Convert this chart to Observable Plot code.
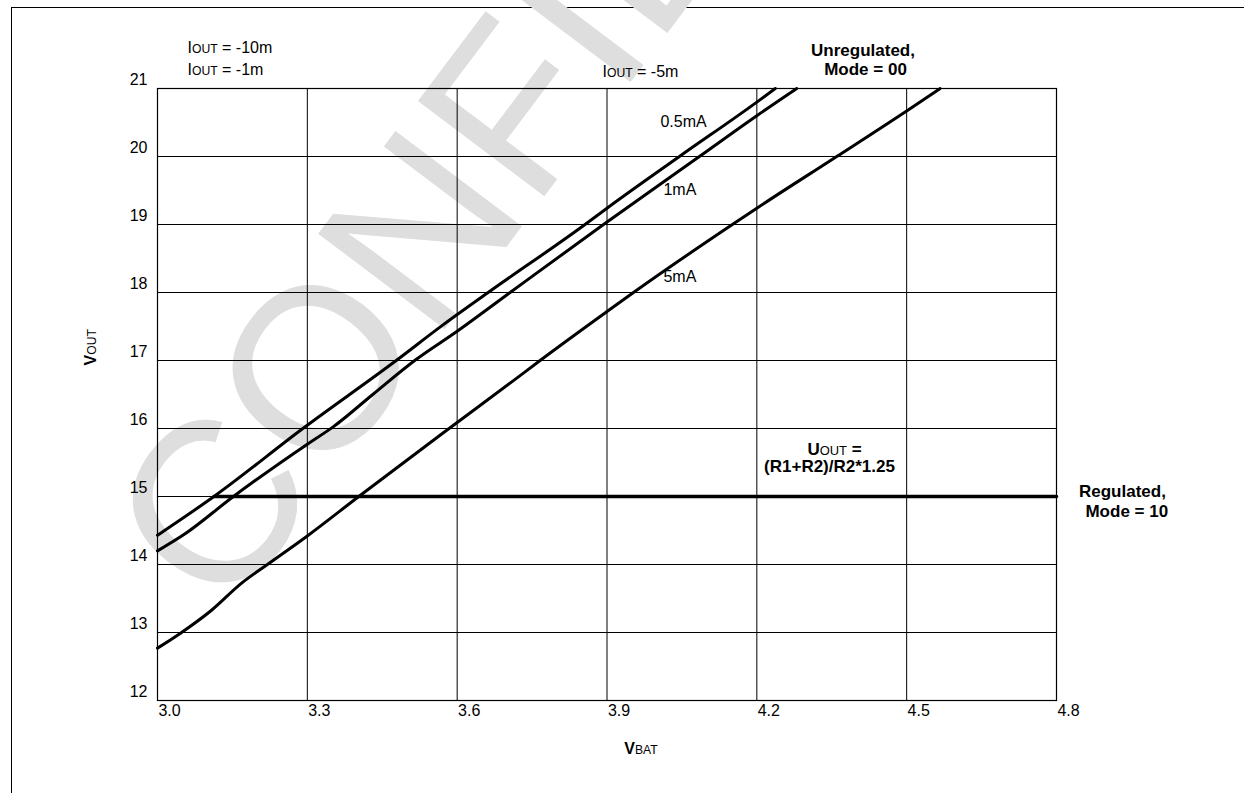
<!DOCTYPE html>
<html>
<head>
<meta charset="utf-8">
<script src="https://cdn.jsdelivr.net/npm/d3@7"></script>
<script src="https://cdn.jsdelivr.net/npm/@observablehq/plot@0.6"></script>
<style>
html, body { margin: 0; padding: 0; background: #fff; overflow: hidden; }
#wrap { position: relative; width: 1244px; height: 793px; }
#wrap svg { position: absolute; left: 0; top: 0; }
#border { position: absolute; left: 11px; top: 7px; right: 0; bottom: 0;
  border-top: 1.5px solid #000; border-left: 1.5px solid #000; pointer-events: none; }
</style>
</head>
<body>
<div id="wrap"><div id="border"></div></div>
<script>
// ---- data ----
const xTicks = [3.0, 3.3, 3.6, 3.9, 4.2, 4.5, 4.8];
const yTicks = [12, 13, 14, 15, 16, 17, 18, 19, 20, 21];

const vbat05 = [3.0, 3.113, 3.291, 3.478, 3.571, 3.662, 3.856, 3.9, 4.045, 4.2, 4.237];
const vout05 = [14.43, 15.0, 16.0, 17.0, 17.52, 18.0, 19.0, 19.24, 20.0, 20.80, 21.0];

const vbat1 = [3.0, 3.053, 3.152, 3.3, 3.351, 3.431, 3.515, 3.6, 3.706, 3.893, 4.085, 4.2, 4.28];
const vout1 = [14.20, 14.44, 15.0, 15.77, 16.02, 16.50, 17.0, 17.43, 18.0, 19.0, 20.0, 20.60, 21.0];

const vbat5 = [3.0, 3.046, 3.107, 3.169, 3.22, 3.3, 3.403, 3.571, 3.712, 3.766, 3.9, 3.953, 4.151, 4.2, 4.36, 4.5, 4.567];
const vout5 = [12.77, 12.99, 13.32, 13.73, 14.0, 14.42, 15.0, 15.93, 16.70, 17.0, 17.72, 18.0, 19.0, 19.24, 20.0, 20.67, 21.0];

const vbatReg = [3.113, 4.8];
const voutReg = [15.0, 15.0];

const curveNames = ["0.5mA", "1mA", "5mA"];

// text notes (label, x, y in data units)
const noteText = ["IOUT = -10m", "IOUT = -1m", "IOUT = -5m", "0.5mA", "1mA", "5mA"];
const noteX    = [3.060, 3.060, 3.891, 4.007, 4.013, 4.013];
const noteY    = [21.60, 21.28, 21.25, 20.515, 19.515, 18.23];

const boldText = ["Unregulated,", "Mode = 00", "UOUT =", "(R1+R2)/R2*1.25", "Regulated,", " Mode = 10"];
const boldX    = [4.4126, 4.4176, 4.3555, 4.3455, 4.932, 4.936];
const boldY    = [21.56, 21.28, 15.69, 15.44, 15.07, 14.78];

// ---- build tables ----
const curves = [];
[[vbat05, vout05], [vbat1, vout1], [vbat5, vout5]].forEach(([xs, ys], k) => {
  xs.forEach((x, i) => curves.push({series: curveNames[k], vbat: x, vout: ys[i]}));
});
const regulated = vbatReg.map((x, i) => ({vbat: x, vout: voutReg[i]}));
const notes = noteText.map((t, i) => ({t, x: noteX[i], y: noteY[i]}));
const bolds = boldText.map((t, i) => ({t, x: boldX[i], y: boldY[i]}));

const FONT = "'Liberation Sans', Arial, Helvetica, sans-serif";

const chart = Plot.plot({
  width: 1244,
  height: 793,
  marginLeft: 157,
  marginRight: 188,
  marginTop: 88,
  marginBottom: 93,
  style: {fontFamily: FONT, fontSize: "16px", background: "transparent", overflow: "visible", color: "#000"},
  x: {domain: [3.0, 4.8], label: null},
  y: {domain: [12, 21], label: null},
  marks: [
    Plot.text(["CONFIDENTIAL"], {
      frameAnchor: "top-left", text: d => d, dx: 68, dy: 531, rotate: -53,
      textAnchor: "start", lineAnchor: "bottom", fontSize: 230, fill: "#dedede"
    }),
    Plot.gridX(xTicks, {stroke: "#000", strokeOpacity: 1, strokeWidth: 1}),
    Plot.gridY(yTicks, {stroke: "#000", strokeOpacity: 1, strokeWidth: 1}),
    Plot.frame({stroke: "#000", strokeWidth: 1.2}),
    Plot.axisX(xTicks, {tickSize: 0, tickPadding: 4, dx: 12, fontSize: 16,
      tickFormat: d3.format(".1f"), label: null}),
    Plot.axisY(yTicks, {tickSize: 0, tickPadding: 10, dy: -9, fontSize: 16,
      tickFormat: d3.format("d"), label: null}),
    Plot.line(curves, {x: "vbat", y: "vout", z: "series", stroke: "#000", strokeWidth: 3,
      curve: "monotone-x"}),
    Plot.line(regulated, {x: "vbat", y: "vout", stroke: "#000", strokeWidth: 3.5}),
    Plot.text(notes, {x: "x", y: "y", text: "t", textAnchor: "start", fontSize: 16, fill: "#000"}),
    Plot.text(bolds, {x: "x", y: "y", text: "t", textAnchor: "middle", fontSize: 17,
      fontWeight: "bold", fill: "#000"}),
    Plot.text(["VBAT"], {frameAnchor: "bottom", text: d => d, dx: 34, dy: 53,
      fontSize: 16, fontWeight: "bold", fill: "#000"}),
    Plot.text(["VOUT"], {frameAnchor: "left", text: d => d, dx: -67, dy: -29, rotate: -90,
      fontSize: 16, fontWeight: "bold", fill: "#000"})
  ]
});

// axis tick labels: enforce size with inline style
d3.select(chart).selectAll("text").each(function () {
  if (/^\d+(\.\d)?$/.test(this.textContent.trim())) {
    this.style.fontSize = "16px";
    this.style.fontFamily = FONT;
  }
});

// small caps for I/V/U + OUT/BAT
d3.select(chart).selectAll("text").each(function () {
  const s = this.textContent;
  const m = s.match(/^(\s*)([IVU])(OUT|BAT)(.*)$/);
  if (!m) return;
  const t = d3.select(this);
  t.text(null);
  t.append("tspan").text(m[1] + m[2]);
  const sm = t.append("tspan").attr("font-size", "0.76em").text(m[3]);
  if (m[2] !== "I") sm.attr("font-weight", "normal");
  if (m[4]) t.append("tspan").text(m[4]);
});

document.getElementById("wrap").appendChild(chart);
</script>
</body>
</html>
